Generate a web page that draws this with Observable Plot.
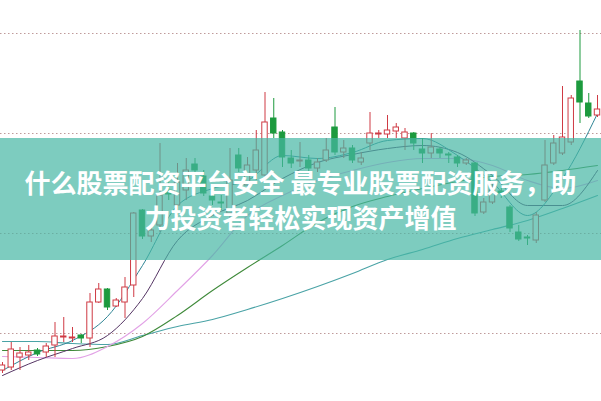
<!DOCTYPE html>
<html>
<head>
<meta charset="utf-8">
<script src="https://cdn.jsdelivr.net/npm/d3@7"></script>
<script src="https://cdn.jsdelivr.net/npm/@observablehq/plot@0.6"></script>
<style>
  html, body { margin: 0; padding: 0; background: #fff; }
  #wrap { position: relative; width: 601px; height: 401px; overflow: hidden; }
  #banner {
    position: absolute; left: 0; top: 138px; width: 601px; height: 122px;
    background: rgba(70, 182, 164, 0.7);
    display: flex; align-items: center; justify-content: center;
    color: #fff; font-family: "Noto Sans CJK SC", sans-serif; font-weight: 700;
    font-size: 26px; line-height: 35px; text-align: center; letter-spacing: 0;
  }
</style>
</head>
<body>
<div id="wrap">
  <div id="chart"></div>
  <div id="banner"><div>什么股票配资平台安全 最专业股票配资服务，助<br>力投资者轻松实现资产增值</div></div>
</div>
<script>
const open  = [9.26,9.32,9.52,9.56,9.66,9.62,9.76,9.92,9.90,9.96,
               9.90,10.62,10.88,10.54,10.62,10.96,12.46,11.94,12.16,12.86,
               12.56,12.86,13.38,13.14,12.74,12.62,12.40,13.56,12.96,13.26,
               13.16,14.30,14.02,13.50,13.44,13.46,13.30,13.46,14.12,13.62,
               13.70,13.42,13.80,13.98,13.98,14.04,13.90,14.00,13.68,13.60,
               13.68,13.58,13.52,13.40,13.40,12.42,12.62,12.84,12.52,12.02,
               11.92,11.86,12.66,13.40,13.60,13.82,15.04,14.60,14.36];
const close = [9.36,9.68,9.60,9.62,9.58,9.74,9.94,9.94,9.92,9.90,
               10.62,10.88,10.52,10.66,10.92,12.40,11.94,12.06,12.76,12.78,
               13.02,13.26,13.26,12.80,12.66,12.60,13.06,13.30,13.36,13.66,
               14.22,14.00,13.52,13.40,13.46,13.30,13.42,13.66,13.62,13.70,
               13.46,13.50,14.00,14.00,14.06,14.12,14.02,13.80,13.60,13.72,
               13.60,13.56,13.40,13.46,12.40,12.62,12.86,12.80,12.10,11.88,
               11.90,12.36,13.36,13.80,13.92,14.70,14.62,14.34,14.48];
const high  = [9.42,9.82,9.72,9.76,9.70,9.80,10.22,10.32,10.12,9.98,
               10.80,11.00,10.90,10.70,11.12,12.42,12.48,12.16,13.80,13.06,
               13.40,13.50,13.50,13.26,12.86,12.76,13.70,13.70,13.52,14.06,
               14.82,14.70,14.06,13.66,13.82,13.56,13.50,13.90,14.52,13.86,
               13.76,13.62,14.42,14.06,14.36,14.20,14.10,14.02,13.90,14.00,
               13.72,13.62,13.56,13.50,13.42,12.70,13.00,12.90,12.56,12.16,
               11.96,12.42,13.86,13.96,14.94,14.76,16.06,14.80,14.76];
const low   = [9.20,9.26,9.26,9.46,9.54,9.52,9.52,9.82,9.82,9.80,
               9.72,10.60,10.46,10.52,10.30,10.72,11.88,11.82,12.02,12.66,
               12.36,12.66,13.14,12.74,12.56,12.46,12.26,13.22,12.86,13.06,
               13.02,13.90,13.32,13.30,13.32,13.22,13.22,13.42,13.56,13.50,
               13.40,13.36,13.66,13.90,13.90,13.90,13.66,13.66,13.40,13.50,
               13.50,13.40,13.32,13.36,12.34,12.38,12.58,12.70,12.02,11.84,
               11.76,11.80,12.62,13.36,13.56,13.76,14.20,14.30,14.32];

// moving-average lines at these candle positions
const maDay = [0,4,8,12,16,20,24,28,32,36,40,44,48,52,56,60,64,68];
const ma5   = [9.26,9.62,9.86,10.34,11.36,12.56,12.90,13.06,13.56,13.50,13.62,13.86,13.90,13.56,13.02,12.36,13.10,14.40];
const ma10  = [9.16,9.46,9.70,9.96,10.70,11.86,12.36,12.66,13.10,13.42,13.58,13.70,13.76,13.62,13.16,12.56,12.56,13.26];
const ma20  = [9.54,9.52,9.50,9.74,10.20,10.86,11.56,12.36,12.76,13.06,13.26,13.42,13.50,13.50,13.36,13.06,12.90,13.06];
const ma30  = [9.66,9.66,9.66,9.74,9.94,10.36,10.86,11.32,11.76,12.22,12.54,12.74,12.90,13.04,13.14,13.18,13.26,13.36];
const ma60  = [9.84,9.84,9.80,9.78,9.96,10.14,10.28,10.48,10.70,10.94,11.20,11.48,11.68,11.90,12.08,12.26,12.50,12.76];

const gridValues = [10, 12, 14, 16];

const RED = "#cf3a44", GREEN = "#1c9a3e";
const candles = open.map((o, i) => ({day: i, o, c: close[i], h: high[i], l: low[i]}));
const up = candles.filter(d => d.c >= d.o);
const down = candles.filter(d => d.c < d.o);
const maSeries = [
  {name: "MA60", vals: ma60, color: "#4aa3a6", w: 1.1},
  {name: "MA30", vals: ma30, color: "#3f8a3a", w: 1.1},
  {name: "MA20", vals: ma20, color: "#e2a2e6", w: 1.1},
  {name: "MA10", vals: ma10, color: "#553564", w: 1},
  {name: "MA5",  vals: ma5,  color: "#2f8595", w: 1}
];
const maMarks = maSeries.map(s =>
  Plot.line(maDay.map((d, k) => ({day: d, v: s.vals[k]})),
    {x: "day", y: "v", stroke: s.color, strokeWidth: s.w, curve: "monotone-x"}));

const half = 0.31;
const chart = Plot.plot({
  width: 601, height: 401,
  marginTop: 0, marginRight: 0, marginBottom: 0, marginLeft: 0,
  x: {domain: [-2 / 8.75, 599 / 8.75], axis: null},
  y: {domain: [8.64, 16.66], axis: null},
  style: {background: "#fff"},
  marks: [
    Plot.ruleY(gridValues, {stroke: "#bf9a9a", strokeDasharray: "1.5,2.5", strokeWidth: 1}),
    ...maMarks,
    Plot.ruleX(up, {x: "day", y1: "l", y2: "h", stroke: RED, strokeWidth: 1}),
    Plot.ruleX(down, {x: "day", y1: "l", y2: "h", stroke: GREEN, strokeWidth: 1}),
    Plot.rect(up, {x1: d => d.day - half, x2: d => d.day + half, y1: "o", y2: "c", fill: "#fff", stroke: RED, strokeWidth: 1}),
    Plot.rect(down, {x1: d => d.day - half, x2: d => d.day + half, y1: "o", y2: "c", fill: GREEN, stroke: GREEN, strokeWidth: 1})
  ]
});
document.getElementById("chart").appendChild(chart);
</script>
</body>
</html>
